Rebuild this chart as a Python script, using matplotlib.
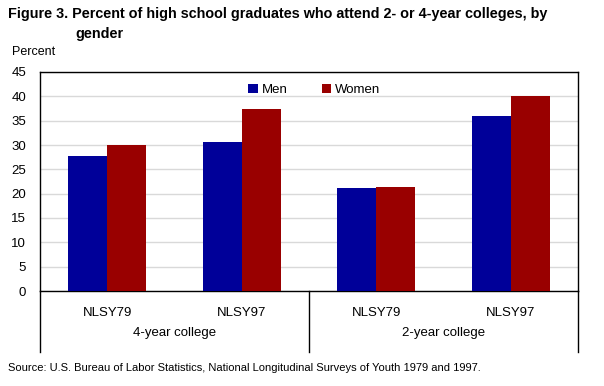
import matplotlib.pyplot as plt
import numpy as np

# data
groups = ['4-year college', '2-year college']
surveys = ['NLSY79', 'NLSY97', 'NLSY79', 'NLSY97']
men = [27.8, 30.7, 21.2, 36.0]
women = [29.9, 37.3, 21.4, 40.1]
yticks = list(range(0, 50, 5))

plt.rcParams['font.family'] = ['Liberation Sans', 'DejaVu Sans']

fig = plt.figure(figsize=(6.04, 3.86), dpi=100)
ax = fig.add_axes([40/604, 1-291/386, 538/604, 219/386])

x = np.arange(len(surveys))
w = 0.29
ax.bar(x - w/2, men, w, color='#000099', label='Men', zorder=3)
ax.bar(x + w/2, women, w, color='#990000', label='Women', zorder=3)

ax.set_xlim(-0.5, len(surveys) - 0.5)
ax.set_ylim(0, 45)
ax.set_yticks(yticks)
ax.set_yticklabels([str(t) for t in yticks], fontsize=9.5)
ax.tick_params(axis='y', length=0, pad=10)
ax.set_xticks([])
ax.grid(axis='y', color='#d9d9d9', lw=1, zorder=0)
for s in ax.spines.values():
    s.set_linewidth(1)
    s.set_color('black')

# survey labels and group labels under the axis
for i, s in enumerate(surveys):
    ax.text(i, -0.1, s, transform=ax.get_xaxis_transform(), ha='center', va='center', fontsize=9.5)
for j, g in enumerate(groups):
    ax.text(0.5 + 2*j, -0.19, g, transform=ax.get_xaxis_transform(), ha='center', va='center', fontsize=9.5)
for xl in [-0.5, 1.5, 3.5]:
    ax.plot([xl, xl], [0, -0.28], transform=ax.get_xaxis_transform(), color='black', lw=1, clip_on=False)

ax.legend(loc='upper center', bbox_to_anchor=(0.51, 1.0), ncol=2, frameon=False, fontsize=9.5,
          handlelength=0.7, handleheight=0.7, handletextpad=0.3, columnspacing=2.6)

fig.text(8/604, 1-14/386, 'Figure 3. Percent of high school graduates who attend 2- or 4-year colleges, by',
         fontsize=10.4, fontweight='bold', va='center')
fig.text(75/604, 1-34/386, 'gender', fontsize=10.4, fontweight='bold', va='center')
fig.text(12/604, 1-52/386, 'Percent', fontsize=9, va='center')
fig.text(8/604, 1-368/386, 'Source: U.S. Bureau of Labor Statistics, National Longitudinal Surveys of Youth 1979 and 1997.',
         fontsize=8, va='center')

fig.savefig('out.png', dpi=100)
